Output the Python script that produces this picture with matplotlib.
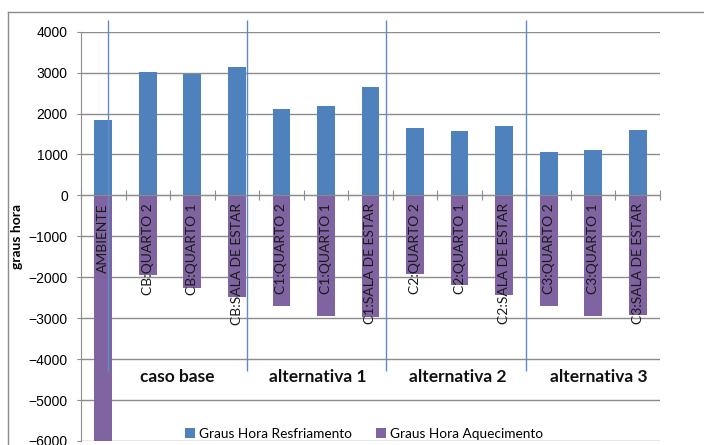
import matplotlib
matplotlib.use('Agg')
import matplotlib.pyplot as plt
from matplotlib.lines import Line2D

plt.rcParams['font.family'] = ['Lato', 'DejaVu Sans']

categories = ['AMBIENTE',
              'CB:QUARTO 2', 'CB:QUARTO 1', 'CB:SALA DE ESTAR',
              'C1:QUARTO 2', 'C1:QUARTO 1', 'C1:SALA DE ESTAR',
              'C2:QUARTO 2', 'C2:QUARTO 1', 'C2:SALA DE ESTAR',
              'C3:QUARTO 2', 'C3:QUARTO 1', 'C3:SALA DE ESTAR']
resfriamento = [1840, 3020, 2960, 3140, 2120, 2180, 2650,
                1650, 1570, 1700, 1070, 1110, 1600]
aquecimento = [-6200, -1940, -2270, -2475, -2710, -2940, -2980,
               -1915, -2180, -2425, -2690, -2935, -2915]
groups = ['caso base', 'alternativa 1', 'alternativa 2', 'alternativa 3']
group_pos = [1.65, 4.82, 7.96, 11.12]
divisores = [0.1, 3.23, 6.35, 9.5]

blue = '#4F81BD'
purple = '#8064A2'
grid_c = '#8C8C8C'

fig = plt.figure(figsize=(7.04, 4.45), dpi=100)
ax = fig.add_axes([81 / 704, 1 - 441 / 445, 579 / 704, (441 - 31.7) / 445])

x = list(range(len(categories)))
ax.bar(x, resfriamento, width=0.4, color=blue, label='Graus Hora Resfriamento', zorder=2)
ax.bar(x, aquecimento, width=0.4, color=purple, label='Graus Hora Aquecimento', zorder=2)

ax.set_xlim(-0.5, len(categories) - 0.5)
ax.set_ylim(-6000, 4000)
ax.set_yticks(range(-6000, 4001, 1000))
ax.yaxis.grid(True, color=grid_c, lw=1)
ax.set_axisbelow(True)

for s in ['top', 'right']:
    ax.spines[s].set_visible(False)
ax.spines['left'].set_color(grid_c)
ax.spines['bottom'].set_position(('data', 0))
ax.spines['bottom'].set_color(grid_c)
ax.spines['bottom'].set_zorder(3)

ax.set_xticks([i - 0.5 for i in range(len(categories) + 1)])
ax.set_xticklabels([])
ax.tick_params(axis='x', direction='inout', length=7, color=grid_c)
ax.tick_params(axis='y', length=3, color=grid_c, pad=6.5)
for lab in ax.get_yticklabels():
    lab.set_fontfamily('Liberation Sans')
    lab.set_fontsize(10)

for i, c in enumerate(categories):
    ax.text(i, -190, c, rotation=90, ha='center', va='top', fontsize=10,
            color='#1a1a1a', zorder=4)

for g, p in zip(groups, group_pos):
    ax.text(p, -4440, g, ha='center', va='center', fontsize=12.5,
            fontweight='bold', color='#111111')

ax.vlines(divisores, -4290, 4290, color='#5E8CC9', lw=1, clip_on=False, zorder=5)

ax.set_ylabel('graus hora', fontsize=10, fontweight='bold')
ax.yaxis.set_label_coords(-0.1, 0.5)

fig.legend(loc='center', bbox_to_anchor=(0.517, 1 - 434 / 445), ncol=2,
           frameon=False, fontsize=9.8, handlelength=0.7, handleheight=0.7,
           handletextpad=0.3, columnspacing=1.8)

# moldura externa do grafico
fig.add_artist(Line2D([8 / 704, 8 / 704], [0, 1 - 12 / 445], color=grid_c, lw=1))
fig.add_artist(Line2D([8 / 704, 1], [1 - 12 / 445, 1 - 12 / 445], color=grid_c, lw=1))

fig.savefig('out.png', dpi=100)
